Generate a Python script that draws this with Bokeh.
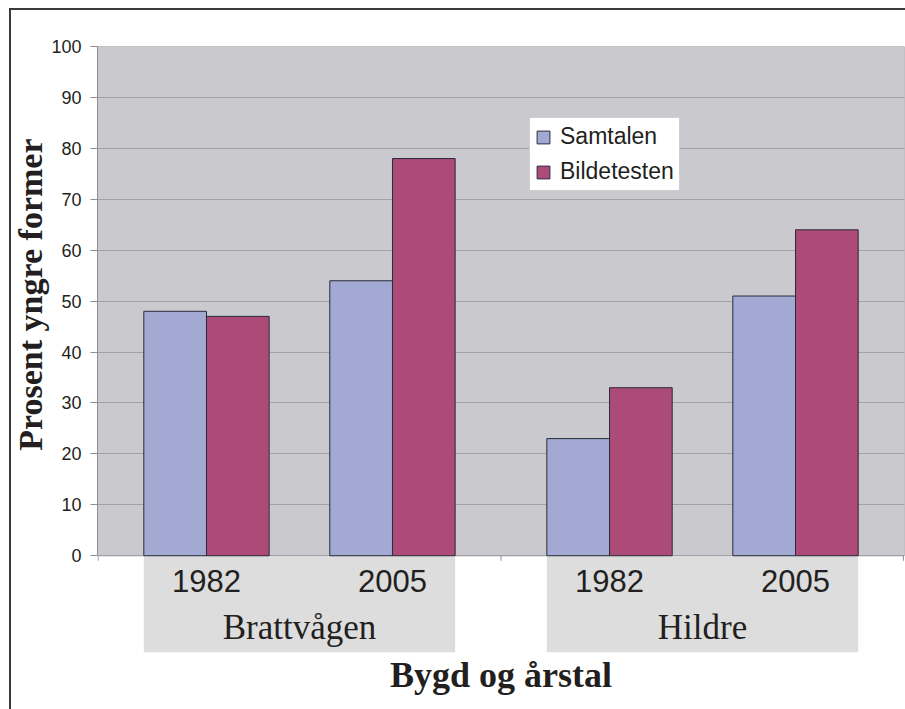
from bokeh.plotting import figure
from bokeh.models import FactorRange, Range1d, ColumnDataSource, BoxAnnotation, Title
from bokeh.transform import dodge
from bokeh.core.properties import value
from bokeh.embed import file_html
from bokeh.resources import INLINE

# ---- data ----
bygder = ["Brattvågen", "Hildre"]
years = ["1982", "2005"]
samtalen = [48, 54, 23, 51]
bildetesten = [47, 78, 33, 64]
y_ticks = [0, 10, 20, 30, 40, 50, 60, 70, 80, 90, 100]
x_title = "Bygd og årstal"
y_title = "Prosent yngre former"

# ---- layout constants ----
BAR_W = 0.337
GROUP_PAD = 0.167
RANGE_PAD = 0.086
Y_LO = -19
YEAR_Y = -5.0
BYGD_Y = -14.1

factors = [(b, y) for b in bygder for y in years]
year_labels = [y for b in bygder for y in years]

x_range = FactorRange(*factors, factor_padding=0.0, group_padding=GROUP_PAD,
                      range_padding=RANGE_PAD, range_padding_units="absolute")

frame_css = ("linear-gradient(#3A3A3A,#3A3A3A) 9px 8px / 2px 100% no-repeat, "
             "linear-gradient(#3A3A3A,#3A3A3A) 9px 8px / 100% 2px no-repeat, white")

p = figure(width=905, height=709, x_range=x_range, y_range=Range1d(Y_LO, 100),
           output_backend="svg", toolbar_location=None, x_axis_location=None,
           min_border_left=97, min_border_right=1, min_border_top=46, min_border_bottom=57,
           background_fill_color="white", border_fill_color=None, outline_line_color=None,
           styles={"background": frame_css})
p.title.visible = False

# plot area background
p.add_layout(BoxAnnotation(bottom=0, top=100, fill_color="#C9C9CE", fill_alpha=1,
                           line_color="#8E8E92", line_alpha=1, line_width=1, level="image"))

# grid
p.xgrid.visible = False
p.ygrid.ticker = y_ticks
p.ygrid.grid_line_color = "#A2A2A6"
p.ygrid.grid_line_width = 1

# y axis
ax = p.yaxis[0]
ax.ticker = y_ticks
ax.bounds = (0, 100)
ax.axis_line_color = "#8E8E92"
ax.major_tick_line_color = "#8E8E92"
ax.major_tick_out = 7
ax.major_tick_in = 0
ax.minor_tick_line_color = None
ax.major_label_standoff = 9
ax.major_label_text_font = "Liberation Sans"
ax.major_label_text_font_size = "18px"
ax.major_label_text_color = "#231F20"

# category label boxes
p.vbar(x=bygder, top=0, bottom=Y_LO, width=1 + 2 * BAR_W, fill_color="#DCDDDC",
       line_color=None, level="underlay")

# category boundary ticks on the x axis line
edge_src = ColumnDataSource(dict(first=[factors[0]], mid=[factors[1]], last=[factors[-1]]))
for field, off in (("first", -0.5 - RANGE_PAD + 0.003), ("mid", 0.5 + GROUP_PAD / 2),
                   ("last", 0.5 + RANGE_PAD - 0.006)):
    p.segment(x0=dodge(field, off, range=p.x_range), x1=dodge(field, off, range=p.x_range),
              y0=0, y1=-1.0, source=edge_src, line_color="#8E8E92", line_width=1)

# bars
src = ColumnDataSource(dict(x=factors, samtalen=samtalen, bildetesten=bildetesten))
p.vbar(x=dodge("x", -BAR_W / 2, range=p.x_range), top="samtalen", width=BAR_W, source=src,
       fill_color="#A2AAD3", line_color="#2A2A3C", line_width=1, legend_label="Samtalen")
p.vbar(x=dodge("x", BAR_W / 2, range=p.x_range), top="bildetesten", width=BAR_W, source=src,
       fill_color="#AC4A78", line_color="#2A2A3C", line_width=1, legend_label="Bildetesten")

# category labels
ysrc = ColumnDataSource(dict(x=factors, label=year_labels))
p.text(x="x", y=YEAR_Y, text="label", source=ysrc, text_font=value("Liberation Sans"),
       text_font_size="31px", text_align="center", text_baseline="middle", text_color="#231F20")
bsrc = ColumnDataSource(dict(x=bygder, label=bygder))
p.text(x="x", y=BYGD_Y, text="label", source=bsrc, text_font=value("Liberation Serif"),
       text_font_size="35px", text_align="center", text_baseline="middle", text_color="#231F20")

# legend
lg = p.legend[0]
lg.location = (432, 461)
lg.margin = 0
lg.padding = 5
lg.spacing = 8
lg.glyph_width = 16
lg.glyph_height = 16
lg.label_standoff = 9
lg.label_text_font = "Liberation Sans"
lg.label_text_font_size = "23px"
lg.label_text_color = "#231F20"
lg.border_line_color = "#A0A0A0"
lg.border_line_width = 1
lg.background_fill_color = "white"
lg.background_fill_alpha = 1

# titles
p.add_layout(Title(text=y_title, align="right", offset=92, text_font="Liberation Serif",
                   text_font_size="34px", text_font_style="bold", text_color="#231F20",
                   standoff=0), "left")
p.add_layout(Title(text=x_title, align="center", text_font="Liberation Serif",
                   text_font_size="36px", text_font_style="bold", text_color="#231F20",
                   vertical_align="top", standoff=4), "below")

open("out.html", "w").write(file_html(p, INLINE))
